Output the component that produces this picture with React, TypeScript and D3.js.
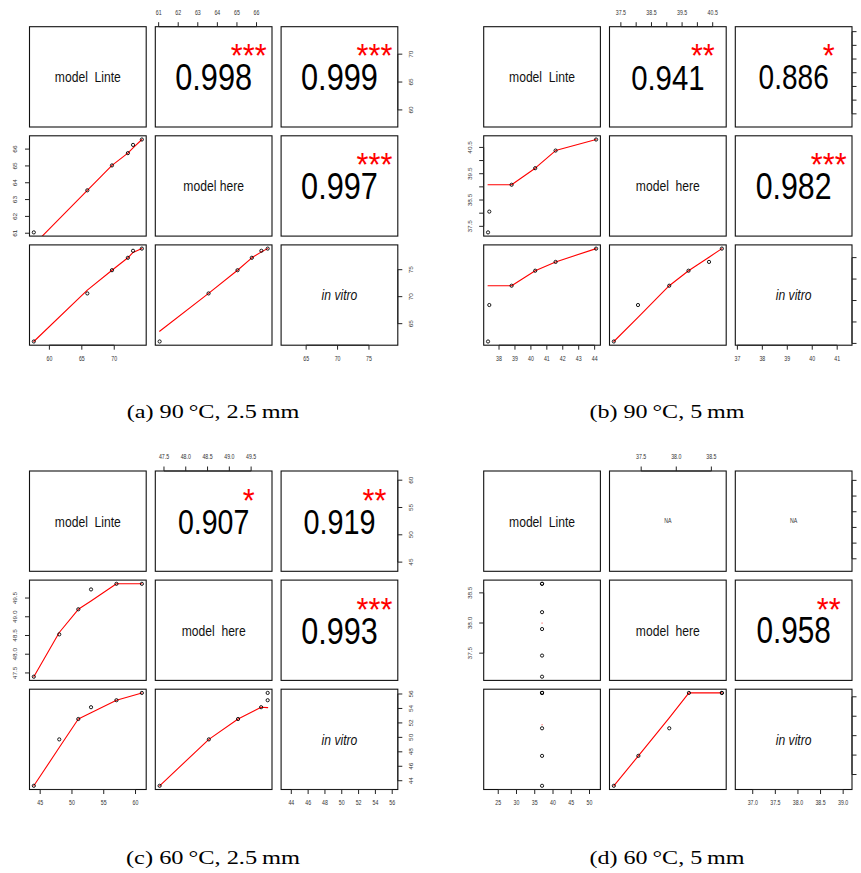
import React from "react";
import * as d3 from "d3";

// ---------- data ----------
const varLabelsA = ["model  Linte", "model here", "in vitro"];
const varLabelsB = ["model  Linte", "model  here", "in vitro"];

// (a) 90 °C, 2.5 mm
const aLinte = [57.6, 65.85, 69.65, 72.1, 72.9, 74.26];
const aHere = [61.05, 63.55, 65.03, 65.76, 66.25, 66.57];
const aVitro = [61.7, 70.6, 74.9, 77.2, 78.5, 78.9];
const aCor = [0.998, 0.999, 0.997];
const aStars = ["***", "***", "***"];
const aFitHereLinte = [60.32, 63.55, 65.03, 65.76, 66.07, 66.57];
const aFitVitroLinte = [61.7, 71.2, 74.9, 77.2, 78.2, 78.9];
const aFitVitroHere = [63.6, 70.6, 74.9, 77.2, 78.3, 78.9];
const aLinteTicks = [60, 65, 70];
const aHereTicks = [61, 62, 63, 64, 65, 66];
const aHereLabels = [61, 62, 63, 64, 65, 66];
const aVitroTicks = [65, 70, 75];

// (b) 90 °C, 5 mm
const bLinte = [37.31, 37.39, 38.79, 40.27, 41.55, 44.09];
const bHere = [37.27, 38.06, 39.08, 39.71, 40.38, 40.8];
const bVitro = [37.09, 38.79, 39.69, 40.39, 40.8, 41.42];
const bCor = [0.941, 0.886, 0.982];
const bStars = ["**", "*", "***"];
const bFitHereLinte = [39.08, 39.08, 39.08, 39.71, 40.38, 40.8];
const bFitVitroLinte = [39.69, 39.69, 39.69, 40.39, 40.8, 41.42];
const bFitVitroHere = [37.09, 38.21, 39.69, 40.39, 41.02, 41.42];
const bLinteTicks = [38, 39, 40, 41, 42, 43, 44];
const bHereTicks = [37.5, 38, 38.5, 39, 39.5, 40, 40.5];
const bHereLabels = [37.5, 38.5, 39.5, 40.5];
const bVitroTicks = [37, 38, 39, 40, 41];

// (c) 60 °C, 2.5 mm
const cLinte = [44, 48, 51, 53, 57, 61];
const cHere = [47.4, 48.53, 49.2, 49.73, 49.88, 49.88];
const cVitro = [43.3, 49.72, 52.54, 54.17, 55.14, 56.15];
const cCor = [0.907, 0.919, 0.993];
const cStars = ["*", "**", "***"];
const cFitHereLinte = [47.4, 48.58, 49.2, 49.42, 49.88, 49.88];
const cFitVitroLinte = [43.3, 48.59, 52.54, 53.42, 55.14, 56.15];
const cFitVitroHere = [43.3, 49.72, 52.54, 54.17, 54.12, 54.12];
const cLinteTicks = [45, 50, 55, 60];
const cHereTicks = [47.5, 48, 48.5, 49, 49.5];
const cHereLabels = [47.5, 48, 48.5, 49, 49.5];
const cVitroTicks = [44, 46, 48, 50, 52, 54, 56];

// (d) 60 °C, 5 mm
const dLinte = [37, 37, 37, 37, 37, 37];
const dHere = [37.11, 37.46, 37.9, 38.18, 38.65, 38.65];
const dVitro = [36.71, 37.48, 38.19, 39.1, 39.1, 39.1];
const dCor = [NaN, NaN, 0.958];
const dStars = ["", "", "**"];
const dFitHereLinte = [38.0, 38.0, 38.0, 38.0, 38.0, 38.0];
const dFitVitroLinte = [38.28, 38.28, 38.28, 38.28, 38.28, 38.28];
const dFitVitroHere = [36.71, 37.48, 38.46, 39.1, 39.1, 39.1];
const dLinteTicks = [25, 30, 35, 40, 45, 50];
const dHereTicks = [37.5, 38, 38.5];
const dHereLabels = [37.5, 38, 38.5];
const dVitroTicks = [37, 37.5, 38, 38.5, 39];

const captions = [
  "(a) 90\u2009°C, 2.5\u2009mm",
  "(b) 90\u2009°C, 5\u2009mm",
  "(c) 60\u2009°C, 2.5\u2009mm",
  "(d) 60\u2009°C, 5\u2009mm",
];

const quads = [
  {
    key: "a", labels: varLabelsA, vars: [aLinte, aHere, aVitro], cor: aCor, stars: aStars,
    fits: { "10": aFitHereLinte, "20": aFitVitroLinte, "21": aFitVitroHere },
    ticks: [aLinteTicks, aHereTicks, aVitroTicks], tickLabels: [aLinteTicks, aHereLabels, aVitroTicks],
  },
  {
    key: "b", labels: varLabelsB, vars: [bLinte, bHere, bVitro], cor: bCor, stars: bStars,
    fits: { "10": bFitHereLinte, "20": bFitVitroLinte, "21": bFitVitroHere },
    ticks: [bLinteTicks, bHereTicks, bVitroTicks], tickLabels: [bLinteTicks, bHereLabels, bVitroTicks],
  },
  {
    key: "c", labels: varLabelsB, vars: [cLinte, cHere, cVitro], cor: cCor, stars: cStars,
    fits: { "10": cFitHereLinte, "20": cFitVitroLinte, "21": cFitVitroHere },
    ticks: [cLinteTicks, cHereTicks, cVitroTicks], tickLabels: [cLinteTicks, cHereLabels, cVitroTicks],
  },
  {
    key: "d", labels: varLabelsB, vars: [dLinte, dHere, dVitro], cor: dCor, stars: dStars,
    fits: { "10": dFitHereLinte, "20": dFitVitroLinte, "21": dFitVitroHere },
    ticks: [dLinteTicks, dHereTicks, dVitroTicks], tickLabels: [dLinteTicks, dHereLabels, dVitroTicks],
  },
];

// ---------- layout ----------
const W = 861, H = 873;
const QX = [29.5, 483.7];
const QY = [26.7, 471];
const STEP_X = 125.8, STEP_Y = 109.1;
const PW = 116.7, PH = 100.3;
const SX = 0.82;
const FONT = "'Liberation Sans', Arial, Helvetica, sans-serif";
const TICK_FS = 6.4;
const BIG_FS = 37.5;
const STAR_FS = 34;
const STAR_SX = SX * BIG_FS / STAR_FS;
const DIAG_FS = 14.8;
const CAP_X = [213, 667];
const CAP_Y = [418.3, 863.5];
const CAP_W = [172.6, 155, 174, 155];

function rExtent(v: number[]): [number, number] {
  let lo = d3.min(v) as number;
  let hi = d3.max(v) as number;
  if (lo === hi) {
    const d = 0.4 * Math.abs(lo) || 1;
    lo -= d;
    hi += d;
  }
  const p = (hi - lo) * 0.04;
  return [lo - p, hi + p];
}

function axisEls(side: string, scale: any, ticks: number[], labels: number[], edge: number, key: string) {
  const fmt = ticks.some((t) => !Number.isInteger(t)) ? d3.format(".1f") : d3.format("d");
  const T = 4.5, L = 13.8;
  const els: any[] = [];
  const stroke = "#222";
  if (side === "top" || side === "bottom") {
    const dir = side === "top" ? -1 : 1;
    els.push(<line key={key + "l"} x1={scale(ticks[0])} x2={scale(ticks[ticks.length - 1])} y1={edge} y2={edge} stroke={stroke} strokeWidth={1} />);
    ticks.forEach((t, k) => els.push(<line key={key + "t" + k} x1={scale(t)} x2={scale(t)} y1={edge} y2={edge + dir * T} stroke={stroke} strokeWidth={1} />));
    labels.forEach((t, k) => els.push(
      <text key={key + "x" + k} transform={`translate(${scale(t)},${edge + dir * L}) scale(${SX},1)`} textAnchor="middle" dominantBaseline="central" fontSize={TICK_FS} fill="#333">{fmt(t)}</text>
    ));
  } else {
    const dir = side === "left" ? -1 : 1;
    els.push(<line key={key + "l"} y1={scale(ticks[0])} y2={scale(ticks[ticks.length - 1])} x1={edge} x2={edge} stroke={stroke} strokeWidth={1} />);
    ticks.forEach((t, k) => els.push(<line key={key + "t" + k} y1={scale(t)} y2={scale(t)} x1={edge} x2={edge + dir * T} stroke={stroke} strokeWidth={1} />));
    const lx = edge + dir * L;
    // labels that would fall beyond the page's right edge are not visible in the reference
    if (lx - 3 < W) {
      labels.forEach((t, k) => els.push(
        <text key={key + "x" + k} transform={`translate(${lx},${scale(t)}) scale(${SX},1) rotate(-90)`} textAnchor="middle" dominantBaseline="central" fontSize={TICK_FS} fill="#333">{fmt(t)}</text>
      ));
    }
  }
  return els;
}

function Quadrant({ q, qi }: { q: any; qi: number }) {
  const ox = QX[qi % 2];
  const oy = QY[Math.floor(qi / 2)];
  const n = q.vars.length;
  const left = (j: number) => ox + j * STEP_X;
  const top = (i: number) => oy + i * STEP_Y;
  const xs = q.vars.map((v: number[], j: number) => d3.scaleLinear().domain(rExtent(v)).range([left(j), left(j) + PW]));
  const ys = q.vars.map((v: number[], i: number) => d3.scaleLinear().domain(rExtent(v)).range([top(i) + PH, top(i)]));
  const els: any[] = [];
  const defs: any[] = [];
  for (let i = 0; i < n; i++) {
    for (let j = 0; j < n; j++) {
      const x0 = left(j), y0 = top(i);
      const cx = x0 + PW / 2, cy = y0 + PH / 2;
      const k = `${q.key}${i}${j}`;
      if (i === j) {
        const italic = q.labels[i] === "in vitro";
        els.push(
          <text key={k + "lab"} transform={`translate(${cx},${cy + 5.4}) scale(${SX},1)`} textAnchor="middle" fontSize={DIAG_FS} fontStyle={italic ? "italic" : "normal"} style={{ whiteSpace: "pre" }} fill="#111">{q.labels[i]}</text>
        );
      } else if (i < j) {
        const idx = i === 0 ? j - 1 : 2;
        const r = q.cor[idx];
        if (isNaN(r)) {
          els.push(<text key={k + "na"} transform={`translate(${cx},${cy}) scale(${SX},1)`} textAnchor="middle" dominantBaseline="central" fontSize={TICK_FS} fill="#333">NA</text>);
        } else {
          const fs = BIG_FS * (Math.abs(r) + 0.3) / 1.3;
          els.push(<text key={k + "r"} transform={`translate(${cx},${cy + 0.358 * fs}) scale(${SX},1)`} textAnchor="middle" fontSize={fs} fill="#000">{r.toFixed(3)}</text>);
          els.push(<text key={k + "s"} transform={`translate(${x0 + 0.8 * PW},${y0 + 0.2 * PH + 0.9 + 0.575 * STAR_FS}) scale(${STAR_SX},1)`} textAnchor="middle" fontSize={STAR_FS} fill="#ff0000">{q.stars[idx]}</text>);
        }
      } else {
        const xv: number[] = q.vars[j];
        const yv: number[] = q.vars[i];
        const order = d3.range(xv.length).sort((a, b) => xv[a] - xv[b]);
        const fit: number[] = q.fits[`${i}${j}`];
        const pts: [number, number][] = order.map((o, m) => [xs[j](xv[o]), ys[i](fit[m])]);
        const line = d3.line();
        const cid = `clip-${k}`;
        defs.push(<clipPath key={cid} id={cid}><rect x={x0} y={y0} width={PW} height={PH} /></clipPath>);
        els.push(<path key={k + "sm"} d={line(pts) || ""} fill="none" stroke="#ff0000" strokeWidth={1.1} strokeLinecap="round" strokeLinejoin="round" clipPath={`url(#${cid})`} />);
        xv.forEach((xval, m) => els.push(
          <circle key={k + "p" + m} cx={xs[j](xval)} cy={ys[i](yv[m])} r={1.6} fill="none" stroke="#000" strokeWidth={0.9} />
        ));
      }
      els.push(<rect key={k + "box"} x={x0} y={y0} width={PW} height={PH} fill="none" stroke="#111" strokeWidth={1.1} />);
      // axes (R pairs convention)
      if (i === n - 1 && j % 2 === 0) els.push(...axisEls("bottom", xs[j], q.ticks[j], q.tickLabels[j], y0 + PH, k + "ab"));
      if (i === 0 && j % 2 === 1) els.push(...axisEls("top", xs[j], q.ticks[j], q.tickLabels[j], y0, k + "at"));
      if (j === 0 && i % 2 === 1) els.push(...axisEls("left", ys[i], q.ticks[i], q.tickLabels[i], x0, k + "al"));
      if (j === n - 1 && i % 2 === 0) els.push(...axisEls("right", ys[i], q.ticks[i], q.tickLabels[i], x0 + PW, k + "ar"));
    }
  }
  return (
    <g>
      <defs>{defs}</defs>
      {els}
      <text x={CAP_X[qi % 2]} y={CAP_Y[Math.floor(qi / 2)]} textAnchor="middle" fontFamily="'Liberation Serif', 'Times New Roman', serif" fontSize={19.5} textLength={CAP_W[qi]} lengthAdjust="spacingAndGlyphs" fill="#000">{captions[qi]}</text>
    </g>
  );
}

export default function App() {
  return (
    <svg width={W} height={H} viewBox={`0 0 ${W} ${H}`} style={{ position: "absolute", left: 0, top: 0, display: "block", background: "#fff" }} fontFamily={FONT}>
      <rect width={W} height={H} fill="#fff" />
      {quads.map((q, qi) => <Quadrant key={q.key} q={q} qi={qi} />)}
    </svg>
  );
}
